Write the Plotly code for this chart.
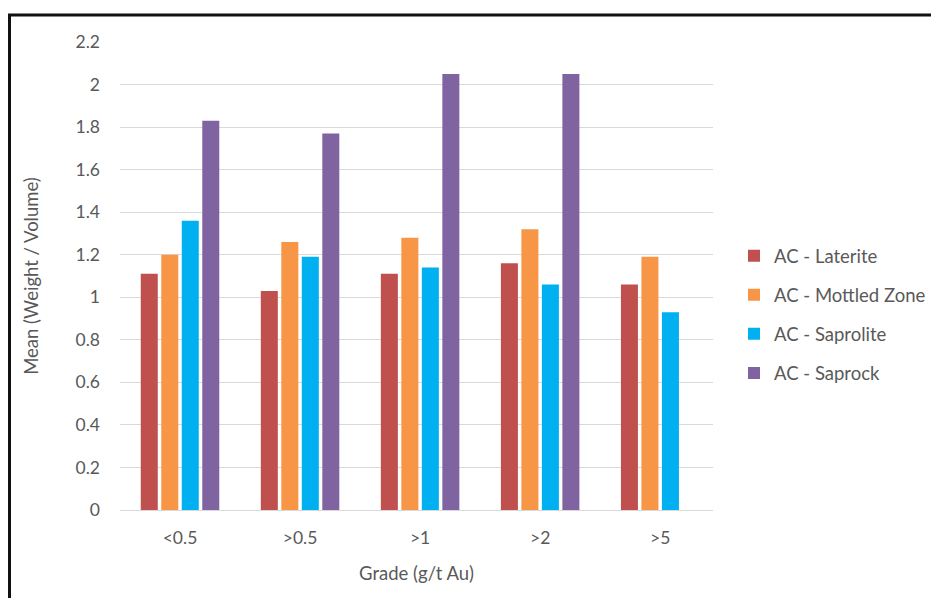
import plotly.graph_objects as go

categories = ["<0.5", ">0.5", ">1", ">2", ">5"]
laterite = [1.11, 1.03, 1.11, 1.16, 1.06]
mottled = [1.20, 1.26, 1.28, 1.32, 1.19]
saprolite = [1.36, 1.19, 1.14, 1.06, 0.93]
saprock = [1.83, 1.77, 2.05, 2.05, None]

series_names = ["AC - Laterite", "AC - Mottled Zone", "AC - Saprolite", "AC - Saprock"]
series_values = [laterite, mottled, saprolite, saprock]
colors = ["#C0504D", "#F79646", "#00B0F0", "#8064A2"]

# page body adds an 8px margin, so the figure is drawn 8px smaller on each side
OFF = 8
W, H = 939 - 2 * OFF, 606 - 2 * OFF
L, T = 120 - OFF, 42 - OFF
PW, PH = 593, 468
R, B = W - L - PW, H - T - PH

def px(x):
    # reference page pixel -> paper x
    return (x - OFF - L) / PW

def py(y):
    # reference page pixel -> paper y
    return (T + PH - (y - OFF)) / PH

FONT = "Lato"
TXT = "#595959"

fig = go.Figure()
for i, (name, vals, col) in enumerate(zip(series_names, series_values, colors)):
    fig.add_trace(go.Bar(
        x=categories, y=vals, name=name, marker_color=col,
        marker_line_width=0, legendgroup=f"g{i}",
    ))

fig.update_layout(
    width=W, height=H,
    margin=dict(l=L, r=R, t=T, b=B, autoexpand=False),
    paper_bgcolor="white", plot_bgcolor="white",
    barmode="group", bargap=0.317, bargroupgap=0.17,
    font=dict(family=FONT, color=TXT, size=17),
    showlegend=True,
    legend=dict(
        x=px(734), xanchor="left", y=py(314.7), yanchor="middle",
        font=dict(family=FONT, size=18.5, color=TXT),
        tracegroupgap=12, bgcolor="rgba(0,0,0,0)",
    ),
    xaxis=dict(
        range=[-0.5, 4.44], showgrid=False, showline=True,
        linecolor="#D9D9D9", linewidth=1, ticks="",
        tickfont=dict(family=FONT, size=17.5, color=TXT),
        ticklabelstandoff=12,
        title=dict(text="Grade (g/t Au)", font=dict(family=FONT, size=18.5, color=TXT), standoff=20),
    ),
    yaxis=dict(
        range=[0, 2.2], dtick=0.2, tick0=0, showgrid=True, gridcolor="#D9D9D9",
        gridwidth=1, zeroline=False, showline=False, ticks="",
        tickfont=dict(family=FONT, size=17.5, color=TXT),
        ticklabelstandoff=19,
        title=dict(text="Mean (Weight / Volume)", font=dict(family=FONT, size=18.5, color=TXT), standoff=32),
    ),
)

# outer frame (left and top edges visible in the reference)
fig.add_shape(type="line", xref="paper", yref="paper",
              x0=px(9.5), x1=px(9.5), y0=py(15), y1=py(620),
              line=dict(color="#111111", width=3))
fig.add_shape(type="line", xref="paper", yref="paper",
              x0=px(8), x1=px(950), y0=py(15), y1=py(15),
              line=dict(color="#111111", width=3))

fig.write_html("out.html")
